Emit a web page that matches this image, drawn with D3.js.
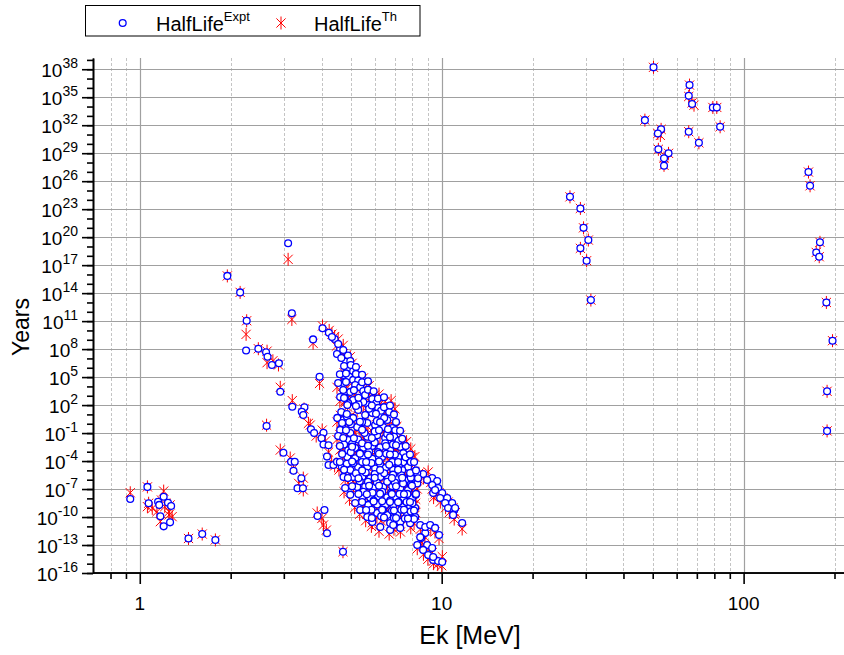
<!DOCTYPE html>
<html>
<head>
<meta charset="utf-8">
<script src="https://cdn.jsdelivr.net/npm/d3@7"></script>
<style>
  body { margin: 0; background: #fff; }
  svg { display: block; }
  text { font-family: "Liberation Sans", Arial, sans-serif; fill: #000; }
</style>
</head>
<body>
<svg id="chart" width="844" height="655"></svg>
<script>
// tick values
const xTickValues = [1, 10, 100]
const xMinorValues = [0.8, 0.9, 2, 3, 4, 5, 6, 7, 8, 9, 20, 30, 40, 50, 60, 70, 80, 90, 200]
const yTickExponents = [-16, -13, -10, -7, -4, -1, 2, 5, 8, 11, 14, 17, 20, 23, 26, 29, 32, 35, 38]

// [Ek (MeV), half-life (years)] -- experiment
const exptLowE = [
  [0.93, 8.5e-9], [1.06, 1.7e-7], [1.07, 3e-9], [1.2, 1.5e-8], [1.15, 4.4e-9], [1.16, 2e-9],
  [1.24, 3.4e-9], [1.27, 1.5e-9], [1.17, 1.2e-10], [1.2, 1e-11], [1.26, 2.7e-11],
  [1.45, 5e-13], [1.61, 1.5e-12], [1.78, 3.5e-13]
]
const exptMidE = [
  [1.95, 7e15], [2.15, 1.2e14], [3.1, 2.2e19], [2.26, 1.1e11], [2.25, 7e7], [3.19, 7e11],
  [2.47, 1.1e8], [2.62, 4.5e7], [2.65, 1.5e7], [2.74, 2e6], [2.89, 3e6], [4.03, 1.7e10],
  [4.23, 5.7e9], [4.42, 1.2e9], [4.61, 1.1e8], [4.5, 3e7], [4.89, 2e7], [4.82, 4.5e6],
  [3.75, 1.1e9], [3.94, 1.1e5], [2.92, 2.7e3], [3.2, 66], [3.51, 57], [3.44, 19], [3.48, 8.5],
  [2.63, 0.58],
  [2.99, 7.8e-4], [3.17, 8.5e-5], [3.26, 8.5e-5], [3.23, 9e-6], [3.43, 1.4e-6], [3.33, 1.2e-7],
  [3.47, 1.2e-7], [3.88, 1.3e-10], [4.09, 5.6e-10], [4.17, 1.8e-12], [4.71, 1.9e-14],
  [3.69, 0.25], [3.78, 0.1], [4.06, 0.11], [4.0, 0.028], [4.06, 6e-3], [4.22, 5e-3], [4.17, 3e-4],
  [4.22, 3.8e-5], [4.38, 3.8e-5], [4.5, 8.5e-5], [4.67, 2.5e-5], [4.73, 2e-6],
  [4.33, 2e9], [4.54, 3.5e8], [4.72, 8e7], [4.65, 1.1e7], [4.98, 5.2e6]
]
const exptBand = [
  [4.90, 6e5], [5.09, 4.2e5], [4.72, 1.7e5], [4.94, 1.1e5], [4.72, 2.3e4], [5.09, 5e4], [5.29, 4.4e4],
  [5.17, 1.4e4], [5.37, 8e3], [4.98, 2.6e3], [5.50, 3.2e3], [5.58, 1.2e3], [5.89, 450], [5.71, 100],
  [6.07, 170], [6.16, 50], [5.50, 210], [5.09, 350], [4.90, 160], [4.65, 18], [4.72, 2.5], [4.68, 0.45],
  [5.09, 4.2], [5.29, 30], [5.58, 8.7], [5.89, 14], [6.26, 8], [6.70, 18], [6.60, 2.5], [6.86, 0.35],
  [7.02, 0.2], [6.96, 0.04], [6.40, 0.45], [6.02, 0.74], [5.67, 1.2], [5.25, 0.45], [4.98, 0.1],
  [4.90, 0.018], [5.29, 0.02], [5.67, 0.04], [6.11, 0.06], [6.50, 0.03], [7.29, 3.2e-3], [7.46, 7e-4],
  [7.18, 2.7e-4], [6.75, 1.5e-3], [6.26, 3e-3], [5.89, 4e-3], [5.50, 2.6e-3], [5.17, 2.5e-3],
  [4.90, 1.4e-3], [4.87, 2.7e-4], [5.17, 2e-4], [5.50, 3e-4], [5.89, 1.8e-4], [6.35, 2.7e-4],
  [6.86, 8e-5], [7.46, 7.5e-5], [7.74, 2.3e-5], [7.86, 3.2e-6], [7.40, 1.1e-5], [6.91, 1.2e-5],
  [6.50, 1.8e-5], [6.02, 1.6e-5], [5.67, 2.5e-5], [5.29, 2.2e-5], [4.98, 1.1e-5], [5.09, 1.9e-6],
  [5.46, 2.1e-6], [5.80, 1.4e-6], [6.26, 1.9e-6], [6.65, 1.6e-6], [7.12, 1.4e-6], [7.57, 9e-7],
  [8.05, 5.6e-7], [5.25, 1.7e-7], [5.58, 1.9e-7], [5.93, 1.5e-7], [6.40, 1.7e-7], [6.86, 2e-7],
  [7.29, 1.3e-7], [7.74, 8e-8], [5.46, 1.4e-8], [5.80, 1.2e-8], [6.16, 1.6e-8], [6.60, 1.3e-8],
  [7.02, 1.5e-8], [7.46, 1.1e-8], [7.99, 1.1e-8], [5.71, 2e-9], [6.11, 2.2e-9], [6.50, 1.8e-9],
  [6.91, 2e-9], [7.40, 1.2e-9], [7.86, 1.3e-9], [8.17, 9e-10], [6.11, 2.7e-10], [6.60, 1.7e-10],
  [7.12, 1.9e-10], [7.69, 1.6e-10], [8.17, 1e-10], [6.75, 2.3e-11], [7.29, 3e-11], [7.86, 2.2e-11],
  [8.49, 1.4e-11],
  [4.78, 600], [5.3, 120], [5.75, 40], [6.3, 25], [6.45, 4], [6.1, 2], [5.45, 1.5], [5.0, 0.9],
  [4.85, 6], [5.55, 0.1], [6.0, 0.15], [6.6, 0.08], [7.2, 0.015], [6.9, 6e-3], [6.5, 8e-3],
  [6.0, 1e-2], [5.45, 8e-3], [5.05, 7e-3], [4.75, 6e-3], [5.0, 9e-4], [5.35, 7e-4], [5.75, 1e-3],
  [6.15, 9e-4], [6.55, 6e-4], [7.0, 5e-4], [7.6, 2.5e-4], [7.9, 8e-5], [7.2, 3e-5], [6.7, 4e-5],
  [6.25, 5e-5], [5.85, 6e-5], [5.45, 8e-5], [5.1, 6e-5], [4.85, 5e-5], [5.2, 5e-6], [5.6, 6e-6],
  [6.0, 4e-6], [6.45, 5e-6], [6.9, 3.5e-6], [7.35, 3e-6], [7.9, 1.6e-6], [8.3, 4e-7], [7.9, 3e-7],
  [7.45, 4e-7], [7.0, 5e-7], [6.6, 6e-7], [6.1, 5e-7], [5.7, 6e-7], [5.35, 7e-7], [5.5, 5e-8],
  [5.9, 4e-8], [6.35, 5e-8], [6.8, 4e-8], [7.25, 3e-8], [7.7, 3e-8], [8.2, 2.5e-8], [5.95, 6e-9],
  [6.35, 5e-9], [6.75, 6e-9], [7.2, 4e-9], [7.65, 4e-9], [8.0, 3e-9], [6.4, 6e-10], [6.85, 5e-10],
  [7.35, 6e-10], [7.9, 4e-10], [6.95, 8e-11], [7.55, 7e-11], [8.1, 6e-11], [6.3, 1.2e-10], [5.85, 6e-10],
  [4.54, 2.3e4], [4.72, 4.2e3], [4.61, 720], [4.87, 100], [4.51, 4.2], [4.68, 1.2], [4.61, 0.21],
  [4.54, 0.048],
  [4.79, 1.3e-7], [4.98, 2.5e-8], [5.17, 3.2e-9], [5.37, 5.6e-10], [5.67, 1e-10], [5.89, 3e-11],
  [6.26, 8.5e-12], [6.75, 4e-12], [7.29, 6.8e-12], [6.91, 1.4e-11],
  [8.82, 1.9e-12], [8.55, 5.6e-13], [8.95, 1e-13], [8.68, 3e-14], [9.02, 8.5e-15], [9.37, 2.5e-15],
  [9.73, 1.9e-15], [10.04, 1.5e-15], [8.82, 8.5e-12], [9.16, 1.4e-11], [9.51, 6.8e-12], [9.8, 1.2e-12],
  [8.49, 7e-13], [9.30, 4.8e-14], [9.37, 5.2e-15], [8.3, 1e-13],
  [8.68, 4e-6], [9.30, 1.5e-6], [9.66, 7.2e-7], [9.30, 2.7e-7], [9.73, 1.3e-7], [9.37, 3.8e-8],
  [10.04, 3.8e-8], [9.88, 1.1e-8], [10.43, 1.1e-8], [10.27, 3.2e-9], [10.83, 3.2e-9], [10.50, 9.3e-10],
  [11.0, 5.6e-10], [10.91, 1.7e-10], [11.69, 2.3e-11], [7.86, 5.2e-6], [8.30, 5e-6], [8.95, 9.3e-7],
  [9.51, 8e-8], [11.08, 9.3e-10]
]
const exptBandCore = [
  [4.75, 1.5e6], [5.0, 2e6], [5.2, 1.2e6], [4.6, 2e5], [4.82, 2.5e5], [5.2, 2.2e5], [5.45, 1.8e5],
  [4.82, 3e4], [5.45, 2.8e4], [5.7, 3.5e4], [5.12, 4e3], [5.7, 4.5e3], [5.95, 3e3], [4.75, 580],
  [5.3, 600], [6.15, 500], [6.44, 700], [5.2, 80], [5.87, 90], [6.44, 60], [6.74, 90], [4.85, 11],
  [6.06, 12], [6.95, 10], [4.94, 1.5], [5.36, 1.6], [6.25, 1.4], [7.06, 1.5], [4.82, 0.2], [5.45, 0.22],
  [6.2, 0.2], [6.64, 0.25], [7.28, 0.18], [4.72, 0.03], [5.12, 0.028], [5.87, 0.03], [6.74, 0.035],
  [7.4, 0.025], [4.6, 4e-3], [5.05, 3.5e-3], [5.7, 4.5e-3], [6.54, 4e-3], [7.06, 5e-3], [7.6, 4e-3],
  [4.68, 5.6e-4], [5.36, 6e-4], [5.7, 5e-4], [6.2, 6e-4], [6.74, 5e-4], [7.85, 5e-4], [4.6, 8e-5],
  [5.05, 9e-5], [5.62, 8e-5], [6.2, 9e-5], [7.17, 8e-5], [8.1, 8e-5], [4.75, 1.2e-5], [5.45, 1e-5],
  [6.25, 1.1e-5], [7.17, 1.2e-5], [8.22, 1e-5], [4.89, 1.5e-6], [5.3, 1.4e-6], [6.0, 1.6e-6],
  [6.84, 1.5e-6], [7.4, 1.6e-6], [8.35, 1.4e-6], [5.05, 2e-7], [5.75, 2.2e-7], [6.2, 2.2e-7],
  [7.06, 2e-7], [7.97, 2.3e-7], [5.3, 3e-8], [5.65, 2.8e-8], [6.25, 3.2e-8], [6.84, 3e-8], [7.5, 2.8e-8],
  [8.22, 3e-8], [5.45, 4e-9], [5.95, 4.5e-9], [6.74, 4e-9], [7.17, 3.8e-9], [7.85, 4e-9],
  [5.62, 5.6e-10], [6.35, 6e-10], [6.95, 5e-10], [7.5, 6e-10], [8.1, 5e-10], [5.87, 8e-11],
  [6.44, 9e-11], [7.06, 8e-11], [7.73, 7e-11]
]
const exptHighE = [
  [50.3, 1.6e38], [66.2, 2e36], [65.8, 1.4e35], [67.5, 1.9e34], [79.1, 8e33], [81.5, 8e33],
  [47.1, 3.5e32], [53.3, 3.6e31], [52.0, 1.3e31], [83.6, 6.8e31], [65.8, 2e31], [71.1, 1.3e30],
  [52.2, 2.6e29], [56.4, 9.6e28], [54.5, 2.8e28], [54.5, 4.5e27], [164, 9.5e26], [166, 3.2e25],
  [26.6, 2.1e24], [28.8, 1.2e23], [29.5, 1e21], [30.6, 4.9e19], [28.8, 6.3e18], [30.2, 3e17],
  [31.2, 1.8e13], [179, 2.8e19], [174, 2.3e18], [178, 8e17], [188, 1e13], [197, 8e8], [189, 3e3],
  [189, 0.17]
]

// [Ek (MeV), half-life (years)] -- theory
const thLowE = [
  [0.93, 4e-8], [1.06, 1.7e-7], [1.06, 1.3e-9], [1.2, 6e-8], [1.1, 8.5e-10], [1.14, 3.7e-10],
  [1.25, 3.7e-10], [1.25, 1.7e-10], [1.17, 3.2e-11], [1.28, 1.1e-10], [1.21, 1.3e-9], [1.26, 2e-9],
  [1.18, 6.6e-9], [1.07, 3e-9], [1.45, 5e-13], [1.61, 1.5e-12], [1.78, 3.5e-13]
]
const thMidE = [
  [1.95, 7e15], [2.15, 1.2e14], [3.1, 4.2e17], [3.19, 1.5e11], [2.26, 1.1e11], [2.25, 3.8e9],
  [2.47, 1.1e8], [2.64, 3.5e6], [2.76, 5.6e6], [2.88, 2e6], [2.64, 6e7], [4.03, 3e10], [4.24, 1e10],
  [4.42, 2.2e9], [4.48, 2.1e8], [4.61, 6e7], [4.92, 3.2e6], [4.85, 1e7], [3.75, 4.2e8], [3.94, 2.1e4],
  [2.92, 8e3], [3.2, 300], [3.62, 1.1], [3.48, 14], [2.63, 0.7], [3.5, 38],
  [2.92, 1.5e-3], [3.23, 1.7e-5], [3.36, 4e-7], [3.15, 2.1e-4], [3.48, 1.5e-6], [3.48, 8e-8],
  [4.01, 7e-11], [4.06, 1.4e-11], [3.87, 2.7e-10], [4.15, 4e-12], [4.71, 1.9e-14],
  [3.67, 0.72], [3.84, 0.048], [4.02, 0.21], [4.12, 0.014], [4.22, 9e-4], [4.32, 8e-5],
  [4.57, 1.1e-5], [4.79, 9e-7], [4.42, 3e-5],
  [4.33, 4e9], [4.54, 1.2e9], [4.72, 2.5e8], [4.65, 4e7], [4.98, 1.5e7]
]
const thBand = [
  [4.92, 5e5], [5.1, 8e5], [4.75, 3e5], [4.9, 6e4], [4.7, 1e4], [5.05, 2.5e4], [5.3, 9e4], [5.2, 6e3],
  [5.4, 2e4], [5.0, 1.2e3], [5.5, 6e3], [5.6, 600], [5.9, 1e3], [5.7, 50], [6.1, 300], [6.2, 100],
  [5.5, 90], [5.1, 150], [4.88, 60], [4.62, 8], [4.75, 1], [4.66, 0.2], [5.1, 2], [5.3, 60], [5.6, 4],
  [5.9, 30], [6.3, 20], [6.7, 40], [6.6, 6], [6.9, 0.8], [7.05, 0.4], [7.0, 0.1], [6.4, 0.2], [6.0, 0.3],
  [5.65, 0.6], [5.2, 0.2], [4.95, 0.05], [4.88, 8e-3], [5.3, 8e-3], [5.7, 0.1], [6.1, 0.15], [6.5, 0.07],
  [7.3, 8e-3], [7.5, 2e-3], [7.2, 1e-4], [6.8, 4e-3], [6.3, 1.5e-3], [5.9, 1.5e-3], [5.5, 1e-3],
  [5.15, 1e-3], [4.88, 6e-4], [4.85, 1e-4], [5.15, 8e-5], [5.5, 7e-4], [5.9, 5e-4], [6.35, 1e-4],
  [6.9, 2e-4], [7.5, 2e-4], [7.8, 6e-5], [7.9, 1e-5], [7.45, 4e-6], [6.95, 5e-6], [6.5, 6e-6], [6.0, 5e-6],
  [5.65, 8e-6], [5.3, 8e-6], [4.95, 4e-6], [5.1, 7e-7], [5.45, 8e-7], [5.8, 5e-7], [6.25, 6e-7],
  [6.7, 5e-6], [7.1, 4e-6], [7.6, 3e-6], [8.1, 1.5e-6], [5.25, 6e-8], [5.6, 7e-8], [5.95, 5e-7],
  [6.4, 6e-8], [6.85, 6e-7], [7.3, 4e-7], [7.75, 2.5e-7], [5.45, 5e-9], [5.8, 4e-9], [6.15, 5e-8],
  [6.6, 4e-9], [7.0, 5e-8], [7.5, 3e-8], [8.0, 4e-8], [5.7, 7e-10], [6.1, 8e-10], [6.5, 6e-9],
  [6.9, 7e-10], [7.4, 4e-9], [7.9, 4e-9], [8.2, 3e-9], [6.1, 1e-10], [6.6, 6e-11], [7.1, 6e-10],
  [7.7, 5e-11], [8.2, 3e-10], [6.8, 8e-12], [7.3, 1e-11], [7.9, 7e-12], [8.5, 5e-12],
  [4.8, 300], [5.3, 300], [5.7, 15], [6.3, 70], [6.4, 1.5], [6.1, 6], [5.4, 0.5], [5.0, 3], [4.8, 2],
  [5.5, 0.04], [6.0, 0.4], [6.6, 0.2], [7.2, 5e-3], [6.9, 2e-2], [6.5, 3e-3], [6.0, 3e-3], [5.5, 2.5e-2],
  [5.0, 2e-3], [4.7, 2e-3], [5.0, 3e-4], [5.4, 2e-3], [5.7, 3e-4], [6.2, 3e-3], [6.6, 2e-4], [7.0, 1.5e-3],
  [7.6, 8e-5], [8.0, 2.5e-4], [7.2, 1e-5], [6.7, 1.2e-4], [6.2, 1.5e-5], [5.8, 2e-4], [5.4, 2.5e-5],
  [5.1, 2e-4], [4.8, 1.5e-5], [5.2, 1.5e-6], [5.6, 2e-6], [6.0, 1.2e-5], [6.5, 1.5e-6], [6.9, 1e-5],
  [7.4, 1e-6], [7.95, 5e-6], [8.35, 1.2e-6], [7.85, 1e-7], [7.4, 1.2e-6], [7.0, 1.5e-7], [6.6, 2e-7],
  [6.1, 1.5e-6], [5.7, 2e-7], [5.3, 2e-6], [5.5, 1.5e-8], [5.9, 1.2e-7], [6.3, 1.5e-8], [6.8, 1.2e-7],
  [7.2, 1e-8], [7.7, 1e-7], [8.2, 8e-9], [5.9, 2e-9], [6.35, 1.5e-8], [6.8, 2e-9], [7.2, 1.2e-8],
  [7.6, 1.2e-9], [8.05, 1e-8], [6.4, 2e-10], [6.9, 1.5e-9], [7.3, 2e-10], [7.9, 1.2e-9], [7.0, 2.5e-11],
  [7.5, 2e-10], [8.1, 2e-11], [6.3, 4e-11], [5.85, 2e-10],
  [4.5, 8e3], [4.7, 1.5e3], [4.6, 250], [4.9, 300], [4.5, 1.5], [4.7, 4], [4.6, 0.07], [4.5, 0.02],
  [4.75, 5e-8], [4.95, 8e-9], [5.15, 1e-9], [5.35, 2e-10], [5.6, 4e-11], [5.85, 1e-11], [6.2, 3e-12],
  [6.7, 1.5e-12], [7.3, 2.5e-12], [6.95, 5e-12],
  [8.8, 7e-13], [8.6, 2e-13], [8.9, 4e-14], [8.7, 1e-14], [9.0, 3e-15], [9.4, 1e-15], [9.7, 8e-16],
  [10.0, 6e-16], [10.05, 5.6e-15], [8.85, 3e-12], [9.2, 5e-12], [9.5, 2.5e-12], [9.8, 5e-13],
  [8.5, 2.5e-13], [9.3, 1.5e-14], [9.4, 2e-15], [8.3, 4e-14],
  [8.7, 1.5e-6], [9.2, 5e-7], [9.6, 2.5e-7], [9.3, 1e-7], [9.8, 4e-8], [9.4, 1.2e-8], [10.1, 1.2e-8],
  [9.9, 4e-9], [10.5, 4e-9], [10.3, 1e-9], [10.9, 1e-9], [10.6, 3e-10], [11.0, 2e-10], [11.0, 6e-11],
  [11.69, 5.2e-12], [7.9, 2e-6], [8.3, 2e-6], [9.02, 6.8e-6], [9.5, 3e-8], [11.1, 3e-10]
]
const thBandCore = [
  [4.8, 8e5], [5.05, 3e6], [5.25, 6e5], [4.65, 6e4], [4.85, 7e4], [5.25, 1e5], [5.5, 8e4], [4.85, 1e4],
  [5.5, 1e4], [5.75, 1.2e4], [5.15, 1.5e3], [5.75, 1.5e3], [6.0, 1.2e3], [4.8, 200], [5.35, 250],
  [6.2, 1.5e3], [6.5, 250], [5.25, 30], [5.9, 250], [6.5, 30], [6.8, 300], [4.9, 4], [6.1, 40], [7.0, 40],
  [4.95, 5], [5.4, 0.5], [6.3, 5], [7.1, 0.5], [4.85, 0.07], [5.5, 0.6], [6.25, 0.06], [6.7, 0.8],
  [7.3, 0.06], [4.75, 0.01], [5.15, 0.1], [5.9, 0.01], [6.8, 0.1], [7.45, 8e-3], [4.6, 1.5e-3],
  [5.1, 1.2e-2], [5.75, 1.2e-3], [6.6, 1.2e-2], [7.1, 1.5e-3], [7.65, 1.2e-2], [4.7, 2e-4], [5.4, 2e-3],
  [5.75, 1.5e-4], [6.25, 2e-3], [6.8, 1.8e-4], [7.9, 2e-3], [4.65, 2.5e-5], [5.1, 3e-4], [5.65, 2.5e-5],
  [6.25, 3e-4], [7.2, 2.5e-5], [8.15, 3e-4], [4.8, 4e-6], [5.5, 3.5e-5], [6.3, 3.5e-6], [7.2, 4e-5],
  [8.3, 3e-6], [4.9, 5e-7], [5.35, 5e-6], [6.05, 5e-7], [6.9, 5e-6], [7.45, 5e-7], [8.4, 5e-6],
  [5.1, 7e-8], [5.8, 7e-7], [6.25, 7e-8], [7.1, 7e-7], [8.0, 7e-8], [5.35, 1e-8], [5.7, 1e-7],
  [6.3, 1e-8], [6.9, 1e-7], [7.55, 1e-8], [8.3, 1e-7], [5.5, 1.2e-9], [6.0, 1.5e-8], [6.8, 1.2e-9],
  [7.2, 1.2e-8], [7.9, 1.2e-9], [5.65, 2e-10], [6.4, 2e-9], [7.0, 1.5e-10], [7.55, 2e-9],
  [8.15, 1.5e-10], [5.9, 2.5e-11], [6.5, 3e-10], [7.1, 2.5e-11], [7.8, 2.5e-10]
]
const thHighE = [
  [50.3, 1.6e38], [66.2, 2e36], [65.8, 1.2e35], [67.5, 2.5e34], [68.5, 1.4e34], [79.1, 8e33],
  [81.5, 8e33], [47.1, 3.5e32], [53.3, 3.6e31], [52.0, 1.3e31], [53, 8e30], [83.6, 6.8e31],
  [65.8, 2e31], [71.1, 1.3e30], [52.2, 2.6e29], [56.4, 9.6e28], [54.5, 3e28], [54.5, 5e27],
  [164, 9.5e26], [166, 3.2e25], [26.6, 2.1e24], [28.8, 1.2e23], [29.5, 1e21], [30.6, 4.9e19],
  [28.8, 6.3e18], [30.2, 3e17], [31.2, 1.8e13], [179, 2.8e19], [174, 2.3e18], [178, 8e17],
  [188, 1e13], [197, 8e8], [189, 3e3], [189, 0.17]
]

const exptPoints = [...exptLowE, ...exptMidE, ...exptBand, ...exptBandCore, ...exptHighE]
const thPoints = [...thLowE, ...thMidE, ...thBand, ...thBandCore, ...thHighE]

const chartW = 844
const plotLeft = 93, plotRight = 847, plotTop = 58, plotBottom = 573

const x = d3.scaleLog().domain([0.7, 220]).range([plotLeft, plotRight])
const y = d3.scaleLog().domain([1e-16, 1.6e39]).range([plotBottom, plotTop])

const svg = d3.select('#chart')
const crisp = v => Math.round(v) + 0.5

// grid
const grid = svg.append('g')
grid.selectAll('line.vminor')
  .data(xMinorValues)
  .join('line')
  .attr('class', 'vminor')
  .attr('x1', d => crisp(x(d))).attr('x2', d => crisp(x(d)))
  .attr('y1', plotTop).attr('y2', plotBottom)
  .attr('stroke', '#c4c4c4').attr('stroke-width', 1).attr('stroke-dasharray', '3,2')
grid.selectAll('line.vmajor')
  .data(xTickValues)
  .join('line')
  .attr('class', 'vmajor')
  .attr('x1', d => crisp(x(d))).attr('x2', d => crisp(x(d)))
  .attr('y1', plotTop).attr('y2', plotBottom)
  .attr('stroke', '#a0a0a0').attr('stroke-width', 1.2)
grid.selectAll('line.hmajor')
  .data(yTickExponents)
  .join('line')
  .attr('class', 'hmajor')
  .attr('x1', plotLeft).attr('x2', chartW)
  .attr('y1', d => crisp(y(10 ** d))).attr('y2', d => crisp(y(10 ** d)))
  .attr('stroke', '#a0a0a0').attr('stroke-width', 1.2)

// markers: vertical bar plus an X
const asterisk = (cx, cy, r) => {
  let p = ''
  for (const a of [90, 45, 135]) {
    const dx = r * Math.cos(a * Math.PI / 180), dy = r * Math.sin(a * Math.PI / 180)
    p += `M${cx - dx},${cy - dy}L${cx + dx},${cy + dy}`
  }
  return p
}

svg.append('g')
  .selectAll('path')
  .data(thPoints)
  .join('path')
  .attr('d', d => asterisk(x(d[0]), y(d[1]), 6.5))
  .attr('stroke', '#ff0000').attr('stroke-width', 1).attr('fill', 'none')

svg.append('g')
  .selectAll('circle')
  .data(exptPoints)
  .join('circle')
  .attr('cx', d => x(d[0])).attr('cy', d => y(d[1]))
  .attr('r', 3.4)
  .attr('fill', '#fff').attr('stroke', '#0000ff').attr('stroke-width', 1.3)

// axes
const yMinor = d3.range(-16, 40)
const yAxis = svg.append('g').attr('transform', `translate(${plotLeft},0)`)
yAxis.call(d3.axisLeft(y).tickValues(yMinor.map(e => 10 ** e)).tickSize(6).tickSizeOuter(0).tickFormat(''))
yAxis.append('g').call(d3.axisLeft(y).tickValues(yTickExponents.map(e => 10 ** e)).tickSize(11).tickSizeOuter(0).tickFormat(''))
yAxis.selectAll('path, line').attr('stroke', '#000').attr('stroke-width', 1.6)

const xAxis = svg.append('g').attr('transform', `translate(0,${plotBottom})`)
xAxis.call(d3.axisBottom(x).tickValues(xMinorValues).tickSize(6).tickSizeOuter(0).tickFormat(''))
xAxis.append('g').call(d3.axisBottom(x).tickValues(xTickValues).tickSize(11).tickSizeOuter(0).tickFormat(''))
xAxis.selectAll('path, line').attr('stroke', '#000').attr('stroke-width', 1.6)
xAxis.selectAll('.domain').attr('d', `M${plotLeft},0H${chartW}`)

// tick labels
const yLabels = svg.append('g')
yTickExponents.forEach(e => {
  const t = yLabels.append('text')
    .attr('x', 78).attr('y', y(10 ** e) + 8)
    .attr('text-anchor', 'end')
  t.append('tspan').attr('font-size', 19).text('10')
  t.append('tspan').attr('font-size', 14).attr('dy', -9).text(e)
})

svg.append('g')
  .selectAll('text')
  .data(xTickValues)
  .join('text')
  .attr('x', d => x(d)).attr('y', 610)
  .attr('text-anchor', 'middle')
  .attr('font-size', 19)
  .text(d => d)

// axis titles
svg.append('text')
  .attr('x', 470).attr('y', 644)
  .attr('text-anchor', 'middle')
  .attr('font-size', 25)
  .text('Ek [MeV]')

svg.append('text')
  .attr('transform', 'translate(29,327) rotate(-90)')
  .attr('text-anchor', 'middle')
  .attr('font-size', 23)
  .text('Years')

// legend
const legend = svg.append('g')
legend.append('rect')
  .attr('x', 85.5).attr('y', 5.5).attr('width', 334.5).attr('height', 30.5)
  .attr('fill', '#fff').attr('stroke', '#000').attr('stroke-width', 1)
legend.append('circle')
  .attr('cx', 122.7).attr('cy', 23).attr('r', 3.4)
  .attr('fill', '#fff').attr('stroke', '#0000ff').attr('stroke-width', 1.3)
legend.append('path')
  .attr('d', asterisk(281, 23, 6.5))
  .attr('stroke', '#ff0000').attr('stroke-width', 1).attr('fill', 'none')
const l1 = legend.append('text').attr('x', 156).attr('y', 31)
l1.append('tspan').attr('font-size', 20).text('HalfLife')
l1.append('tspan').attr('font-size', 13).attr('dy', -10).text('Expt')
const l2 = legend.append('text').attr('x', 314).attr('y', 31)
l2.append('tspan').attr('font-size', 20).text('HalfLife')
l2.append('tspan').attr('font-size', 13).attr('dy', -10).text('Th')
</script>
</body>
</html>
